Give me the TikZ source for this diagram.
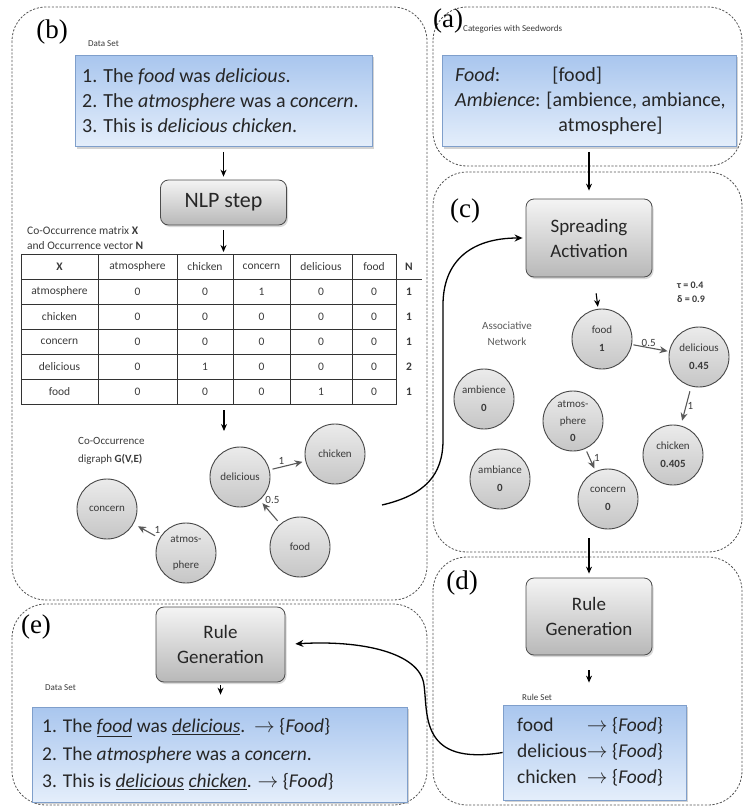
\documentclass[tikz,border=0pt]{standalone}
\usepackage{fontspec}
\setmainfont{Carlito}
\newfontfamily\panelfont{Liberation Serif}
\usetikzlibrary{arrows.meta,shadows}

\definecolor{blueTop}{HTML}{A9C6EE}
\definecolor{blueBot}{HTML}{E4EEFB}
\definecolor{blueLine}{HTML}{7F9FCB}
\definecolor{greyTop}{HTML}{F4F4F4}
\definecolor{greyBot}{HTML}{B8B8B8}
\definecolor{circTop}{HTML}{EBEBEB}
\definecolor{circBot}{HTML}{C6C6C6}
\definecolor{ink}{HTML}{3A3A3A}
\definecolor{frame}{HTML}{555555}

\tikzset{
  panel/.style={draw=frame, line width=0.8pt, dash pattern=on 2.2pt off 1.6pt, rounded corners=34pt},
  panellabel/.style={font=\panelfont\fontsize{27}{27}\selectfont, inner sep=0pt},
  caption/.style={font=\fontsize{9}{10}\selectfont, text=ink, anchor=west, inner sep=0pt},
  bluebox/.style={draw=blueLine, line width=0.8pt, top color=blueTop, bottom color=blueBot,
    inner sep=0pt, drop shadow={opacity=0.35, shadow xshift=1.5pt, shadow yshift=-2pt}},
  boxtext/.style={font=\fontsize{20}{25}\selectfont, align=left, text=black!85, anchor=west, inner sep=0pt},
  greybox/.style={draw=black!70, line width=0.8pt, rounded corners=8pt, top color=greyTop, bottom color=greyBot,
    font=\fontsize{19}{25}\selectfont, align=center, text=black!85, inner sep=0pt,
    drop shadow={opacity=0.3, shadow xshift=1.5pt, shadow yshift=-2pt}},
  word/.style={circle, draw=black!72, line width=0.9pt, top color=circTop, bottom color=circBot,
    minimum size=60pt, inner sep=0pt, align=center, font=\fontsize{11}{18}\selectfont, text=ink},
  cell/.style={font=\fontsize{11.5}{12}\selectfont, text=ink, inner sep=0pt},
  grid/.style={draw=black!80, line width=0.8pt},
  arr/.style={-{Stealth[length=7pt,width=6pt]}, line width=1.1pt, black},
  flow/.style={-{Stealth[length=8pt,width=7pt]}, line width=1.3pt, black},
  gedge/.style={-{Stealth[length=8pt,width=7pt]}, line width=1.1pt, black!65},
  elabel/.style={font=\fontsize{11}{12}\selectfont, text=ink, inner sep=1pt},
}

\begin{document}
\begin{tikzpicture}[x=1pt, y=-1pt]
\useasboundingbox (0,0) rectangle (744,808);

% dashed panels
\draw[panel] (12,7) rectangle (427,600);
\draw[panel] (433,7) rectangle (742,166);
\draw[panel] (433,172) rectangle (742,552);
\draw[panel] (433,557) rectangle (742,805);
\draw[panel] (12,604) rectangle (427,805);

% ---------------- (b) co-occurrence ----------------
\node[panellabel] (labB) at (52,32) {(b)};
\node[caption] (capDataB) at (88,44) {Data Set};
\node[bluebox, minimum width=297pt, minimum height=91pt] (dataB) at (223.5,101) {};
\node[boxtext] (dataBtext) at (82,101) {1. The \textit{food} was \textit{delicious}.\\
  2. The \textit{atmosphere} was a \textit{concern}.\\
  3. This is \textit{delicious chicken}.};

\node[greybox, minimum width=126pt, minimum height=45pt, font=\fontsize{22}{25}\selectfont] (nlp) at (223.5,202.5) {NLP step};
\draw[arr, shorten <=5pt, shorten >=3pt] (dataB) -- (nlp);

\node[font=\fontsize{11.5}{15}\selectfont, text=ink, align=left, anchor=west, inner sep=0pt] (capMatrix) at (27,238)
  {Co-Occurrence matrix \textbf{X}\\and Occurrence vector \textbf{N}};

% table frame
\coordinate (tabTop) at (223.5,254);
\draw[grid] (21,254) rectangle (396,404);
\foreach \x in {98,177,233,290,352} \draw[grid] (\x,254) -- (\x,404);
\foreach \y in {304,329,354,379} \draw[grid] (21,\y) -- (396,\y);
\draw[grid] (21,279) -- (422,279);
% header row
\node[cell] (h0) at (59.5,266.5) {\textbf{X}};
\node[cell] (h1) at (137.5,266.5) {atmosphere};
\node[cell] (h2) at (205,266.5) {chicken};
\node[cell] (h3) at (261.5,266.5) {concern};
\node[cell] (h4) at (321,266.5) {delicious};
\node[cell] (h5) at (374,266.5) {food};
\node[cell] (hN) at (409,266.5) {\textbf{N}};
% body rows
\foreach \name/\a/\b/\c/\d/\e/\n [count=\r] in
  {atmosphere/0/0/1/0/0/1, chicken/0/0/0/0/0/1, concern/0/0/0/0/0/1,
   delicious/0/1/0/0/0/2, food/0/0/0/1/0/1}{
  \pgfmathsetmacro\yy{266.5+25*\r}
  \node[cell] (r\r c0) at (59.5,\yy) {\name};
  \node[cell] (r\r c1) at (137.5,\yy) {\a};
  \node[cell] (r\r c2) at (205,\yy) {\b};
  \node[cell] (r\r c3) at (261.5,\yy) {\c};
  \node[cell] (r\r c4) at (321,\yy) {\d};
  \node[cell] (r\r c5) at (374,\yy) {\e};
  \node[cell] (r\r n) at (409,\yy) {\textbf{\n}};
}
\draw[arr, shorten <=5pt, shorten >=2pt] (nlp) -- (tabTop);

\coordinate (tabOut) at (224,410);
\coordinate (graphIn) at (224,431);
\draw[arr] (tabOut) -- (graphIn);

\node[font=\fontsize{11}{18}\selectfont, text=ink, align=left, anchor=west, inner sep=0pt] (capGraph) at (78,451)
  {Co-Occurrence\\digraph \textbf{G(V,E)}};

\node[word] (gDel) at (240,477) {delicious};
\node[word] (gChi) at (335,454) {chicken};
\node[word] (gCon) at (107,509) {concern};
\node[word, font=\fontsize{11}{26}\selectfont] (gAtm) at (186,553) {atmos-\\phere};
\node[word] (gFood) at (300,547) {food};
\draw[gedge, shorten <=3pt, shorten >=3pt] (gDel) -- node[elabel, above left, pos=0.45] {1} (gChi);
\draw[gedge, shorten <=4pt, shorten >=4pt] (gFood) -- node[elabel, above right, pos=0.8] {0.5} (gDel);
\draw[gedge, shorten <=5pt, shorten >=5pt] (gAtm) -- node[elabel, above right, pos=0.25] {1} (gCon);

% ---------------- (a) seed words ----------------
\node[panellabel] (labA) at (448,21) {(a)};
\node[caption] (capSeed) at (463,29) {Categories with Seedwords};
\node[bluebox, minimum width=294pt, minimum height=91pt] (seed) at (589,101) {};
\node[font=\fontsize{20}{25}\selectfont, text=black!85, anchor=west, inner sep=0pt] (seedtext) at (455,101)
  {\begin{tabular}{@{}l@{\hspace{6pt}}l@{}}
   \textit{Food}: & \hspace{6pt}[food]\\
   \textit{Ambience}: & [ambience, ambiance,\\
   & \hspace{12pt}atmosphere]
   \end{tabular}};

% ---------------- (c) spreading activation ----------------
\node[panellabel] (labC) at (465,211) {(c)};
\node[greybox, minimum width=126pt, minimum height=78pt] (sa) at (589,238) {Spreading\\Activation};
\draw[arr, shorten <=5pt, shorten >=8pt] (seed) -- (sa);

\node[font=\bfseries\fontsize{10}{14}\selectfont, text=ink, align=left, anchor=west, inner sep=0pt] (params) at (677,292)
  {τ = 0.4\\δ = 0.9};
\node[font=\fontsize{11}{16}\selectfont, text=black!65, align=center, inner sep=0pt] (capNet) at (507,334)
  {Associative\\Network};

\node[word] (aFood) at (602,339) {food\\\textbf{1}};
\node[word] (aDel) at (699,357) {delicious\\\textbf{0.45}};
\node[word] (aChi) at (673,455) {chicken\\\textbf{0.405}};
\node[word] (aAmbe) at (484,399) {ambience\\\textbf{0}};
\node[word] (aAmba) at (500,479) {ambiance\\\textbf{0}};
\node[word, font=\fontsize{11}{17}\selectfont] (aAtm) at (573,421) {atmos-\\phere\\\textbf{0}};
\node[word] (aCon) at (608,499) {concern\\\textbf{0}};
\draw[arr, shorten <=16pt, shorten >=2pt] (sa) -- (aFood);
\draw[gedge, shorten <=1.5pt, shorten >=1.5pt] (aFood) -- node[elabel, above, pos=0.45] {0.5} (aDel);
\draw[gedge, shorten <=5pt, shorten >=5pt] (aDel) -- node[elabel, right, pos=0.5] {1} (aChi);
\draw[gedge, shorten <=3pt, shorten >=3pt] (aAtm) -- node[elabel, right=3pt, pos=0.4] {1} (aCon);

% flow from the digraph into spreading activation
\coordinate (bOut) at (382,505);
\draw[flow, shorten >=3pt] (bOut) .. controls (425,495) and (443,475) .. (443,440)
  -- (443,305) .. controls (443,262) and (470,238) .. (sa.west);

% ---------------- (d) rule generation ----------------
\node[panellabel] (labD) at (462,583) {(d)};
\node[greybox, minimum width=126pt, minimum height=77pt] (ruleD) at (589,616.5) {Rule\\Generation};
\coordinate (cOut) at (589,538);
\draw[arr, shorten >=4pt] (cOut) -- (ruleD);
\node[caption] (capRules) at (522,697) {Rule Set};
\node[bluebox, minimum width=183pt, minimum height=95pt] (rules) at (594.5,752.5) {};
\node[font=\fontsize{19.5}{26}\selectfont, text=black!85, anchor=west, inner sep=0pt] (rulestext) at (517,752.5)
  {\begin{tabular}{@{}l@{}l@{}}
   food\hspace{22pt} & $\rightarrow$ \{\textit{Food}\}\\
   delicious & $\rightarrow$ \{\textit{Food}\}\\
   chicken\hspace{6pt} & $\rightarrow$ \{\textit{Food}\}
   \end{tabular}};
\draw[arr, shorten <=15pt, shorten >=22pt] (ruleD) -- (rules.north -| ruleD);

% ---------------- (e) labelled data ----------------
\node[panellabel] (labE) at (36,627) {(e)};
\node[greybox, minimum width=129pt, minimum height=75pt] (ruleE) at (220.5,644.5) {Rule\\Generation};
\node[caption] (capDataE) at (45,688) {Data Set};
\node[bluebox, minimum width=375pt, minimum height=95pt] (dataE) at (219.5,754.5) {};
\node[boxtext, font=\fontsize{19.5}{27.5}\selectfont] (dataEtext) at (42,754.5)
  {1. The \underline{\textit{food}} was \underline{\textit{delicious}}.\ \ $\rightarrow$ \{\textit{Food}\}\\
   2. The \textit{atmosphere} was a \textit{concern}.\\
   3. This is \underline{\textit{delicious}} \underline{\textit{chicken}}. $\rightarrow$ \{\textit{Food}\}};
\draw[arr, shorten <=3pt, shorten >=12pt] (ruleE) -- (dataE.north -| ruleE);

\draw[flow, shorten >=10pt] (rules.west) .. controls (420,766) and (428,715) .. (424,685)
  .. controls (420,652) and (360,640) .. (ruleE.east);

\end{tikzpicture}
\end{document}
